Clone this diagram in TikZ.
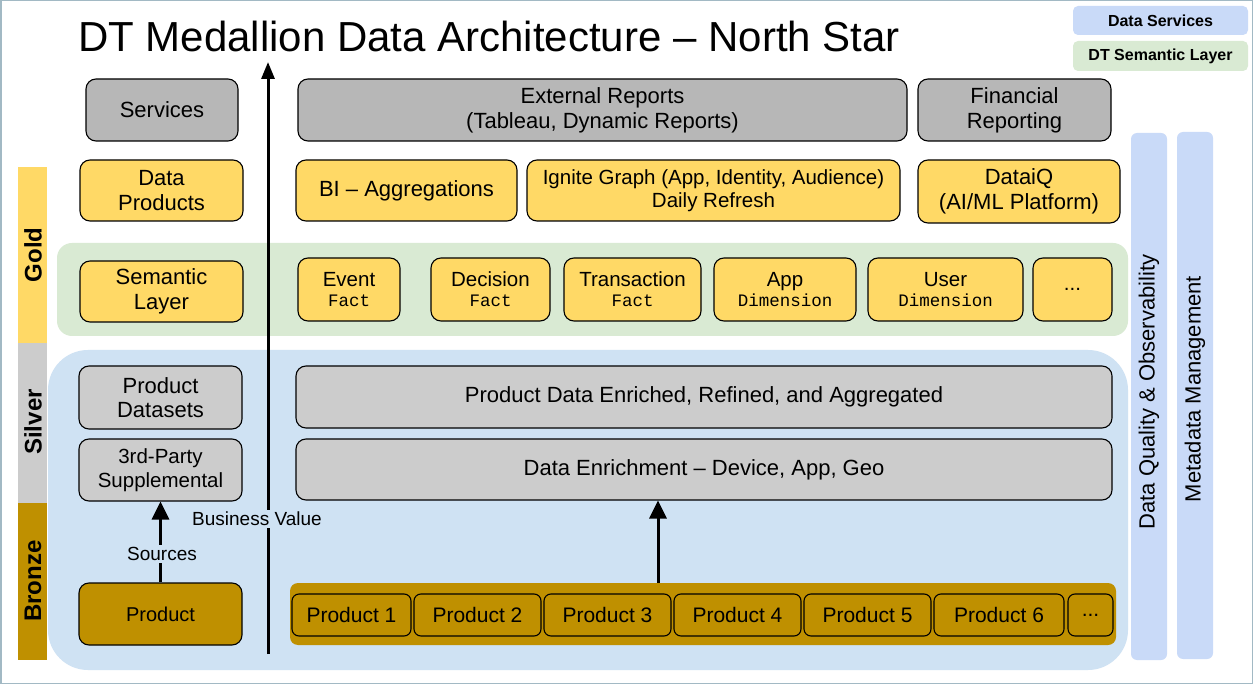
\documentclass[tikz,border=0pt]{standalone}
\usepackage{fontspec}
\setmainfont{Liberation Sans}
\newfontfamily\monofont{Liberation Mono}
\newfontfamily\titlefont{Liberation Sans}
\usetikzlibrary{arrows.meta}
\definecolor{goldc}{HTML}{FFD966}
\definecolor{silverc}{HTML}{CCCCCC}
\definecolor{darkgrayc}{HTML}{B7B7B7}
\definecolor{bronzec}{HTML}{BF9000}
\definecolor{bluebg}{HTML}{CFE2F3}
\definecolor{greenbg}{HTML}{D9EAD3}
\definecolor{legblue}{HTML}{C9DAF8}
\definecolor{borderc}{HTML}{A2B9C4}
\newcommand{\pbox}[7]{\node[#6, minimum width={(#4-#2)*1pt}, minimum height={(#5-#3)*1pt}] (#1) at ({(#2+#4)/2},{(#3+#5)/2}) {#7};}
\newcommand{\mono}[1]{{\monofont\fontsize{17.5}{20}\selectfont #1}}
\tikzset{
  box/.style={draw=black, line width=1.1pt, rounded corners=10pt, align=center, inner sep=2pt, font=\fontsize{22}{25}\selectfont},
  goldbox/.style={box, fill=goldc},
  silverbox/.style={box, fill=silverc},
  graybox/.style={box, fill=darkgrayc},
  bronzebox/.style={box, fill=bronzec},
  semibox/.style={goldbox, font=\fontsize{20.5}{20}\selectfont},
  prodbox/.style={box, fill=bronzec, rounded corners=7pt, font=\fontsize{21}{22}\selectfont},
  legend/.style={rounded corners=5pt, font=\bfseries\fontsize{16}{18}\selectfont, inner sep=0pt},
  level/.style={rotate=90, font=\bfseries\fontsize{24}{26}\selectfont},
  sidecol/.style={fill=legblue, rounded corners=6pt, inner sep=0pt},
  sidelabel/.style={rotate=90, font=\fontsize{22}{24}\selectfont},
  arr/.style={line width=3pt, -{Triangle[width=17pt,length=18pt]}},
  lbl/.style={font=\fontsize{19}{20}\selectfont, fill=bluebg, inner sep=2pt},
}
\begin{document}
\begin{tikzpicture}[x=1pt,y=-1pt]
\useasboundingbox (0,0) rectangle (1253,684);
\fill[white] (0,0) rectangle (1253,684);
\draw[borderc, line width=1.5pt] (0.75,0.75) rectangle (1252.25,683.25);

% title
\node[anchor=base west, inner sep=0pt, font=\titlefont\fontsize{42}{48}\selectfont] (title) at (78,52) {DT Medallion Data Architecture – North Star};

% legend
\pbox{legds}{1073}{6}{1248}{35}{legend, fill=legblue}{Data Services}
\pbox{legsl}{1073}{41}{1248}{71}{legend, fill=greenbg}{DT Semantic Layer}

% level bars
\fill[goldc] (18,167) rectangle (47,343);
\fill[silverc] (18,343) rectangle (47,503);
\fill[bronzec] (18,503) rectangle (47,660);
\node[level] (lgold) at (33,255) {Gold};
\node[level] (lsilver) at (33,422) {Silver};
\node[level] (lbronze) at (33,581) {Bronze};

% regions
\fill[bluebg, rounded corners=40pt] (48,350) rectangle (1128,670);
\fill[greenbg, rounded corners=15pt] (57,243) rectangle (1128,336);

% right columns
\pbox{dq}{1131}{133}{1167}{660}{sidecol}{}
\pbox{mm}{1177}{132}{1213}{659}{sidecol}{}
\node[sidelabel] (dqlabel) at (1149,392) {Data Quality \& Observability};
\node[sidelabel] (mmlabel) at (1195,389) {Metadata Management};

% row 1
\pbox{services}{86}{79}{238}{141}{graybox}{Services}
\pbox{external}{298}{79}{907}{141}{graybox}{External Reports\\(Tableau, Dynamic Reports)}
\pbox{financial}{918}{79}{1111}{141}{graybox}{Financial\\Reporting}

% row 2
\pbox{dataproducts}{80}{160}{243}{221}{goldbox}{Data\\Products}
\pbox{bi}{296}{160}{517}{221}{goldbox}{BI – Aggregations}
\pbox{ignite}{527}{160}{900}{221}{goldbox, font=\fontsize{20.5}{23}\selectfont}{Ignite Graph (App, Identity, Audience)\\Daily Refresh}
\pbox{dataiq}{918}{160}{1120}{223}{goldbox}{DataiQ\\(AI/ML Platform)}

% row 3 semantic
\pbox{semantic}{80}{261}{243}{322}{goldbox}{Semantic\\Layer}
\pbox{event}{298}{258}{400}{321}{semibox}{Event\\\mono{Fact}}
\pbox{decision}{431}{258}{550}{321}{semibox}{Decision\\\mono{Fact}}
\pbox{transaction}{564}{258}{701}{321}{semibox}{Transaction\\\mono{Fact}}
\pbox{appdim}{714}{258}{856}{321}{semibox}{App\\\mono{Dimension}}
\pbox{userdim}{868}{258}{1023}{321}{semibox}{User\\\mono{Dimension}}
\pbox{semmore}{1033}{258}{1112}{321}{semibox}{...}

% silver
\pbox{proddatasets}{79}{366}{242}{429}{silverbox, font=\fontsize{22}{24}\selectfont}{Product\\Datasets}
\pbox{thirdparty}{79}{439}{242}{501}{silverbox, font=\fontsize{20.5}{24}\selectfont}{3rd-Party\\Supplemental}
\pbox{enriched}{296}{366}{1112}{428}{silverbox}{Product Data Enriched, Refined, and Aggregated}
\pbox{enrich}{296}{439}{1112}{500}{silverbox}{Data Enrichment – Device, App, Geo}

% bronze
\pbox{product}{79}{583}{242}{645}{bronzebox, font=\fontsize{20}{22}\selectfont}{Product}
\pbox{prodrow}{290}{583}{1116}{645}{fill=bronzec, rounded corners=8pt}{}
\pbox{p1}{292}{594}{411}{636}{prodbox}{Product 1}
\pbox{p2}{414}{594}{541}{636}{prodbox}{Product 2}
\pbox{p3}{544}{594}{671}{636}{prodbox}{Product 3}
\pbox{p4}{674}{594}{801}{636}{prodbox}{Product 4}
\pbox{p5}{804}{594}{931}{636}{prodbox}{Product 5}
\pbox{p6}{934}{594}{1064}{636}{prodbox}{Product 6}
\pbox{pmore}{1068}{594}{1113}{636}{prodbox}{...}

% arrows
\coordinate (bvstart) at (268,654);
\coordinate (bvend) at (268,62);
\draw[line width=3pt, -{Triangle[width=13pt,length=17pt]}] (bvstart) -- (bvend);
\node[lbl] (bvlabel) at (257,519) {Business Value};

\draw[arr] (product.north) -- (thirdparty.south);
\node[lbl] (srclabel) at (162,554) {Sources};

\coordinate (cx) at (658,0);
\draw[arr] (prodrow.north -| cx) -- (enrich.south -| cx);
\end{tikzpicture}
\end{document}
